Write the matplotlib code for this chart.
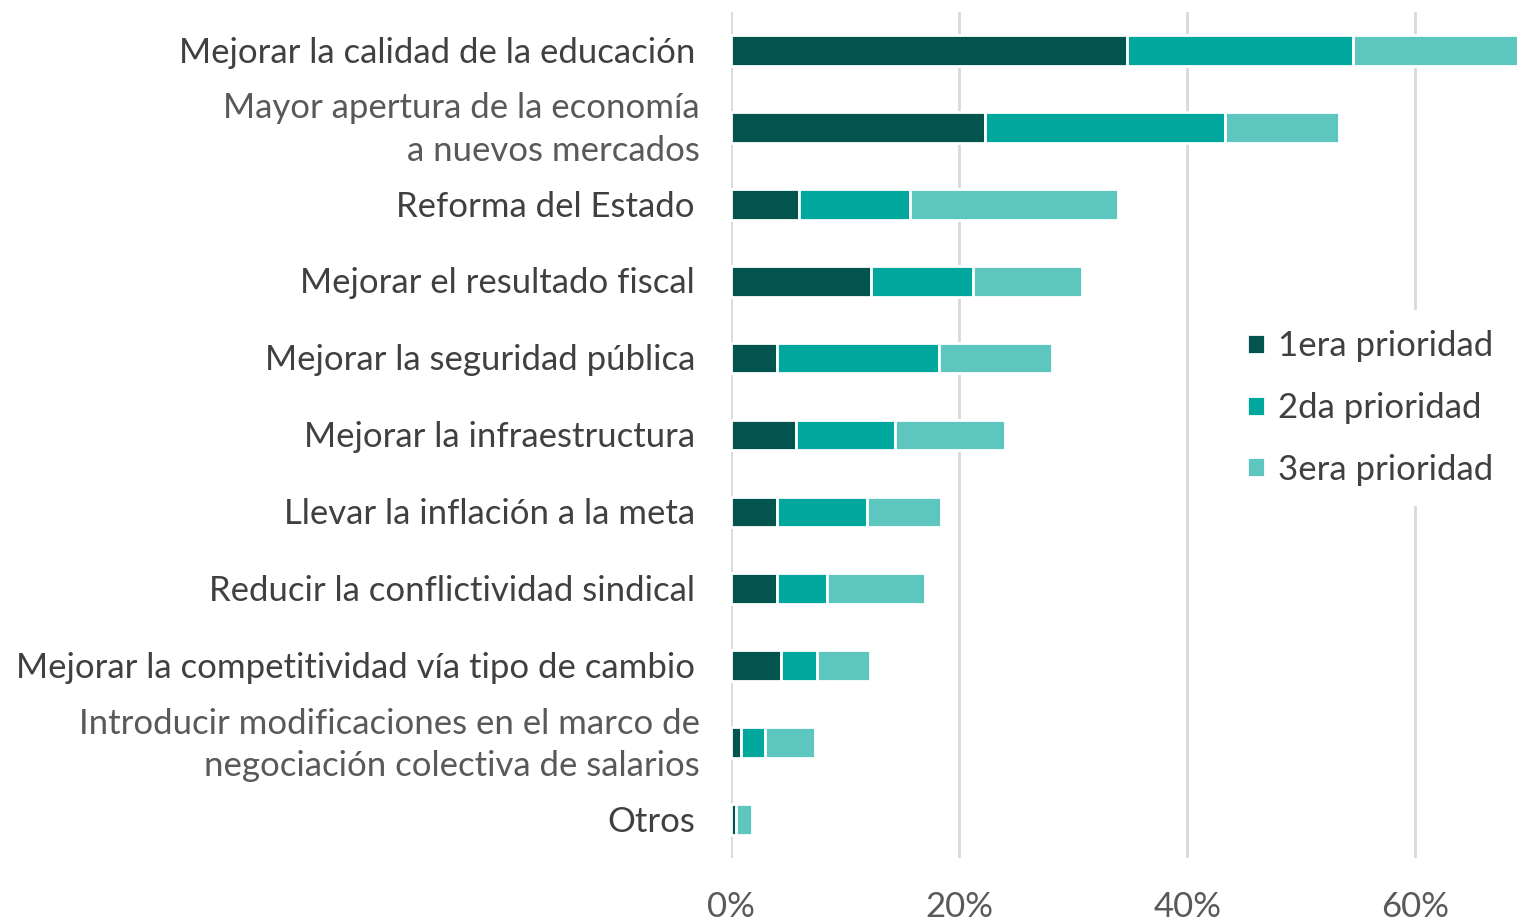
import matplotlib
matplotlib.use("Agg")
from matplotlib import pyplot as plt

plt.rcParams['font.family'] = ['Lato', 'DejaVu Sans']

CATEGORIES = [
    "Mejorar la calidad de la educación",
    "Mayor apertura de la economía\na nuevos mercados",
    "Reforma del Estado",
    "Mejorar el resultado fiscal",
    "Mejorar la seguridad pública",
    "Mejorar la infraestructura",
    "Llevar la inflación a la meta",
    "Reducir la conflictividad sindical",
    "Mejorar la competitividad vía tipo de cambio",
    "Introducir modificaciones en el marco de\nnegociación colectiva de salarios",
    "Otros",
]
PRIORIDAD_1 = [34.7, 22.3, 6.0, 12.3, 4.0, 5.7, 4.0, 4.0, 4.4, 0.9, 0.4]
PRIORIDAD_2 = [19.8, 21.0, 9.7, 8.9, 14.2, 8.7, 7.9, 4.4, 3.1, 2.1, 0.0]
PRIORIDAD_3 = [15.5, 10.0, 18.2, 9.6, 9.9, 9.6, 6.5, 8.6, 4.7, 4.4, 1.45]
SERIES = ["1era prioridad", "2da prioridad", "3era prioridad"]
COLORS = ["#03534E", "#00A79D", "#5CC6BF"]
TICKS = [0, 20, 40, 60]

W, H = 1517, 923
fig = plt.figure(figsize=(W / 100, H / 100), dpi=100)
ax = fig.add_axes([731 / W, 1 - 858 / H, 1 - 731 / W, (858 - 12) / H])
axw = W - 731

ypos = list(range(len(CATEGORIES)))
left = [0.0] * len(CATEGORIES)
for name, vals, col in zip(SERIES, [PRIORIDAD_1, PRIORIDAD_2, PRIORIDAD_3], COLORS):
    ax.barh(ypos, vals, left=left, height=0.40, color=col, edgecolor="white",
            linewidth=2, label=name, zorder=3)
    left = [a + b for a, b in zip(left, vals)]

ax.set_xlim(0, 68.9)
ax.set_ylim(10.5, -0.5)
ax.set_xticks(TICKS)
ax.set_xticklabels([f"{t}%" for t in TICKS])
ax.set_yticks([])

# category labels, two-line ones sit a bit further right and lighter
for y, cat in zip(ypos, CATEGORIES):
    two = "\n" in cat
    ax.text(-(31 if two else 36) / axw, y + 0.03, cat, transform=ax.get_yaxis_transform(),
            ha="right", va="center", fontsize=25, linespacing=1.4,
            color="#595959" if two else "#404040")

ax.tick_params(axis="x", length=0, pad=24, labelsize=25, labelcolor="#595959")
ax.grid(axis="x", color="#D9D9D9", linewidth=2, zorder=0)
ax.set_axisbelow(True)
for s in ax.spines.values():
    s.set_visible(False)

leg = ax.legend(loc="center left", bbox_to_anchor=((1209 - 731) / axw, 1 - (408 - 12) / 846),
                frameon=True, facecolor="white", edgecolor="none", framealpha=1,
                fontsize=25, handlelength=0.5, handleheight=0.5, handletextpad=0.4,
                labelspacing=0.85, borderpad=0.6)
for t in leg.get_texts():
    t.set_color("#404040")
leg.set_zorder(5)

fig.savefig("out.png", dpi=100)
